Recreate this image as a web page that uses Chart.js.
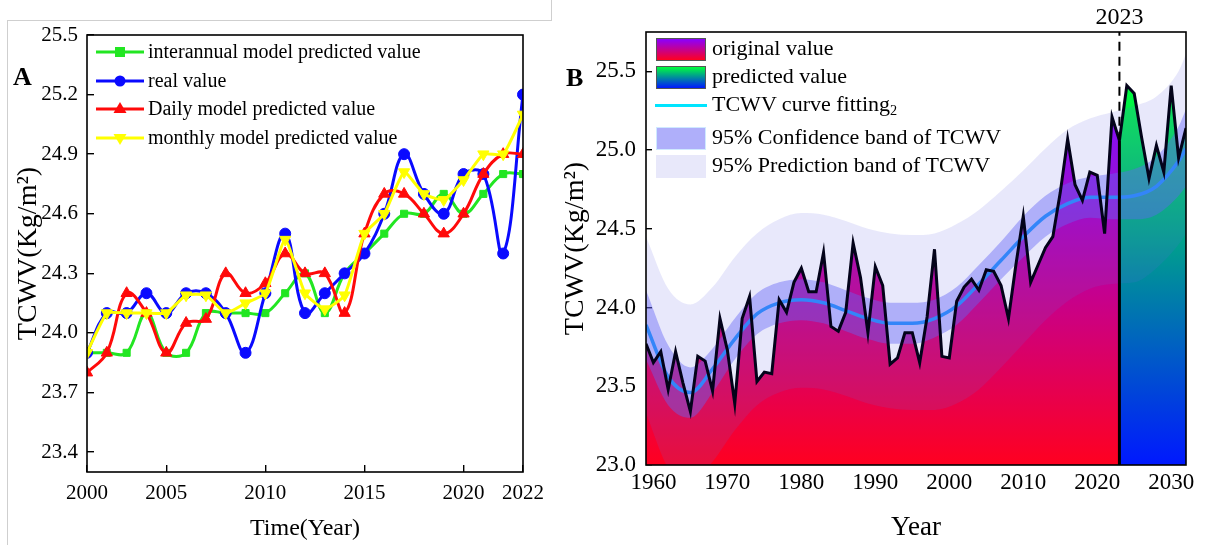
<!DOCTYPE html>
<html>
<head>
<meta charset="utf-8">
<title>TCWV</title>
<script src="https://cdn.jsdelivr.net/npm/chart.js@4.4.1/dist/chart.umd.min.js"></script>
<style>
  html, body { margin: 0; padding: 0; background: #fff; }
  body { width: 1206px; height: 545px; position: relative; overflow: hidden;
         font-family: "Liberation Serif", "Times New Roman", serif; color: #000; }
  canvas { position: absolute; top: 0; }
  #cA { left: 0; }
  #cB { left: 560px; }
  .txt { position: absolute; line-height: 1; white-space: nowrap; }
  .rule { position: absolute; background: #cfcfcf; }
  .swatch { position: absolute; width: 50px; height: 23px; box-sizing: border-box; }
  sub { font-size: 65%; vertical-align: -0.25em; line-height: 0; }
</style>
</head>
<body>
<div class="rule" style="left:7px;top:20px;width:544px;height:1px;"></div>
<div class="rule" style="left:7px;top:20px;width:1px;height:525px;"></div>
<div class="rule" style="left:551px;top:0;width:1px;height:21px;"></div>

<canvas id="cA" width="560" height="545"></canvas>
<canvas id="cB" width="646" height="545"></canvas>

<div class="txt" style="left:13px;top:64px;font-size:26px;font-weight:bold;">A</div>
<div class="txt" style="left:566px;top:65px;font-size:26px;font-weight:bold;">B</div>
<div id="legendA"></div>
<div id="legendB"></div>

<script>
// ---------------- Panel A: model comparison, 2000–2022 ----------------
const yearsA = [2000, 2001, 2002, 2003, 2004, 2005, 2006, 2007, 2008, 2009, 2010, 2011,
                2012, 2013, 2014, 2015, 2016, 2017, 2018, 2019, 2020, 2021, 2022];
const interannualPred = [23.9, 23.9, 23.9, 24.1, 23.9, 23.9, 24.1, 24.1, 24.1, 24.1, 24.2, 24.3,
                         24.1, 24.3, 24.4, 24.5, 24.6, 24.6, 24.7, 24.6, 24.7, 24.8, 24.8];
const realValue = [23.9, 24.1, 24.1, 24.2, 24.1, 24.2, 24.2, 24.1, 23.9, 24.2, 24.5, 24.1,
                   24.2, 24.3, 24.4, 24.6, 24.9, 24.7, 24.6, 24.8, 24.8, 24.4, 25.2];
const dailyPred = [23.8, 23.9, 24.2, 24.1, 23.9, 24.05, 24.07, 24.3, 24.2, 24.25, 24.4, 24.3,
                   24.3, 24.1, 24.5, 24.7, 24.7, 24.6, 24.5, 24.6, 24.8, 24.9, 24.9];
const monthlyPred = [23.9, 24.1, 24.1, 24.1, 24.1, 24.19, 24.19, 24.1, 24.15, 24.2, 24.47, 24.2,
                     24.12, 24.19, 24.5, 24.6, 24.81, 24.7, 24.67, 24.77, 24.9, 24.9, 25.1];
// x tick marks sit on these point indices, with these labels
const xTickIdxA = [0, 4, 9, 14, 19, 22];
const xTickTextA = ['2000', '2005', '2010', '2015', '2020', '2022'];
const yTicksA = [23.4, 23.7, 24.0, 24.3, 24.6, 24.9, 25.2, 25.5];

// ---------------- Panel B: long series, fit and forecast ----------------
const origYears = [];
for (let y = 1959; y <= 2023; y++) origYears.push(y);
const origValues = [
  23.77, 23.65, 23.72, 23.48, 23.72, 23.52, 23.34, 23.69, 23.66, 23.47,
  23.93, 23.73, 23.39, 23.93, 24.07, 23.53, 23.59, 23.58, 24.05, 23.97,
  24.16, 24.25, 24.10, 24.10, 24.35, 23.88, 23.85, 23.97, 24.41, 24.19,
  23.84, 24.26, 24.14, 23.64, 23.68, 23.84, 23.84, 23.65, 23.94, 24.37,
  23.69, 23.68, 24.04, 24.13, 24.18, 24.11, 24.24, 24.23, 24.14, 23.93,
  24.27, 24.58, 24.16, 24.27, 24.38, 24.45, 24.73, 25.07, 24.78, 24.68,
  24.86, 24.84, 24.47, 25.21, 25.06];
const predYears = [2023, 2024, 2025, 2026, 2027, 2028, 2029, 2030, 2031, 2032];
const predValues = [25.06, 25.41, 25.36, 25.08, 24.82, 25.03, 24.86, 25.41, 24.95, 25.14];

const fitYears = [1959, 1962, 1965, 1968, 1971, 1974, 1977, 1980, 1983, 1986, 1989, 1992, 1995,
                  1998, 2001, 2004, 2007, 2010, 2013, 2016, 2019, 2022, 2025, 2028, 2031, 2032];
const fitValues = [23.89, 23.56, 23.46, 23.61, 23.80, 23.96, 24.03, 24.05, 24.03, 23.98, 23.93, 23.90, 23.90,
                   23.93, 24.01, 24.15, 24.30, 24.45, 24.58, 24.66, 24.70, 24.70, 24.71, 24.77, 24.93, 25.01];
const confUpper = [24.11, 23.76, 23.62, 23.74, 23.93, 24.09, 24.16, 24.18, 24.16, 24.11, 24.06, 24.03, 24.03,
                   24.05, 24.13, 24.27, 24.42, 24.58, 24.71, 24.79, 24.83, 24.85, 24.88, 24.96, 25.15, 25.26];
const confLower = [23.67, 23.38, 23.30, 23.46, 23.67, 23.83, 23.90, 23.92, 23.90, 23.85, 23.80, 23.77, 23.77,
                   23.81, 23.89, 24.03, 24.18, 24.32, 24.45, 24.53, 24.57, 24.56, 24.56, 24.59, 24.71, 24.77];
const predBandUpper = [24.45, 24.12, 24.02, 24.13, 24.32, 24.47, 24.56, 24.60, 24.59, 24.55, 24.50, 24.47, 24.46,
                       24.47, 24.53, 24.62, 24.74, 24.87, 25.01, 25.13, 25.20, 25.24, 25.28, 25.34, 25.50, 25.61];
const predBandLower = [23.33, 22.98, 22.88, 23.02, 23.22, 23.38, 23.46, 23.49, 23.48, 23.44, 23.39, 23.36, 23.35,
                       23.35, 23.39, 23.48, 23.62, 23.77, 23.92, 24.04, 24.12, 24.15, 24.16, 24.25, 24.40, 24.47];
const splitYear = 2023;
const xTicksB = [1960, 1970, 1980, 1990, 2000, 2010, 2020, 2030];
const yTicksB = [23.0, 23.5, 24.0, 24.5, 25.0, 25.5];

// ---------------- shared styling ----------------
const FONT = "'Liberation Serif', 'Times New Roman', serif";
Chart.defaults.font.family = FONT;
Chart.defaults.color = '#000';

const framePlugin = {
  id: 'frame',
  afterDraw(chart) {
    const { ctx, chartArea: a } = chart;
    ctx.save();
    ctx.strokeStyle = '#000';
    ctx.lineWidth = 1.6;
    ctx.strokeRect(a.left, a.top, a.right - a.left, a.bottom - a.top);
    ctx.restore();
  }
};

const pairs = (xs, ys) => ys.map((v, i) => ({ x: xs[i], y: v }));

function innerTicks(len) {
  return { display: true, drawOnChartArea: false, drawTicks: true, tickLength: -len, color: '#000', lineWidth: 1.4 };
}

// ---------------- Panel A chart ----------------
const seriesA = [
  { name: 'interannual model predicted value', values: interannualPred, color: '#22e622', marker: 'rect',     rot: 0,   r: 5,   tension: 0.4,  order: 4 },
  { name: 'real value',                        values: realValue,       color: '#0a0aff', marker: 'circle',   rot: 0,   r: 5.5, tension: 0.4,  order: 3 },
  { name: 'Daily model predicted value',       values: dailyPred,       color: '#ff0a0a', marker: 'triangle', rot: 0,   r: 6.5, tension: 0.4,  order: 2 },
  { name: 'monthly model predicted value',     values: monthlyPred,     color: '#ffff00', marker: 'triangle', rot: 180, r: 6.5, tension: 0.15, order: 1 }
];

new Chart(document.getElementById('cA'), {
  type: 'line',
  data: {
    datasets: seriesA.map(s => ({
      label: s.name,
      data: s.values.map((v, i) => ({ x: i, y: v, year: yearsA[i] })),
      borderColor: s.color,
      backgroundColor: s.color,
      pointBorderColor: s.color,
      borderWidth: 3,
      tension: s.tension,
      pointStyle: s.marker,
      pointRotation: s.rot,
      pointRadius: s.r,
      pointBorderWidth: 1,
      fill: false,
      order: s.order
    }))
  },
  options: {
    responsive: false,
    devicePixelRatio: 1,
    animation: false,
    layout: { padding: { left: 0, top: 35, right: 33, bottom: 0 } },
    plugins: { legend: { display: false }, tooltip: { enabled: false } },
    scales: {
      x: {
        type: 'linear', min: 0, max: yearsA.length - 1,
        afterBuildTicks: s => { s.ticks = xTickIdxA.map(v => ({ value: v })); },
        afterFit: s => { s.height = 73; },
        ticks: {
          autoSkip: false, maxRotation: 0, padding: 16, font: { size: 21 },
          callback: v => xTickTextA[xTickIdxA.indexOf(v)]
        },
        grid: innerTicks(7),
        border: { display: false },
        title: { display: true, text: 'Time(Year)', font: { size: 24, lineHeight: 1 }, padding: { top: 0, bottom: 4 } }
      },
      y: {
        type: 'linear', min: 23.3, max: 25.5,
        afterBuildTicks: s => { s.ticks = yTicksA.map(v => ({ value: v })); },
        afterFit: s => { s.width = 87; },
        ticks: { autoSkip: false, padding: 16, font: { size: 21 }, callback: v => v.toFixed(1) },
        grid: innerTicks(7),
        border: { display: false },
        title: { display: true, text: 'TCWV(Kg/m²)', font: { size: 28, lineHeight: 1 }, padding: { top: 15, bottom: 0 } }
      }
    }
  },
  plugins: [framePlugin]
});

// legend for panel A
(function () {
  const box = document.getElementById('legendA');
  seriesA.forEach((s, i) => {
    const cy = 52 + i * 28.5;
    let mk = '';
    if (s.marker === 'rect') mk = `<rect x="19" y="5" width="10" height="10" fill="${s.color}"/>`;
    else if (s.marker === 'circle') mk = `<circle cx="24" cy="10" r="5.5" fill="${s.color}"/>`;
    else if (s.rot === 0) mk = `<polygon points="24,3 30.5,14 17.5,14" fill="${s.color}"/>`;
    else mk = `<polygon points="24,17 30.5,6 17.5,6" fill="${s.color}"/>`;
    box.insertAdjacentHTML('beforeend',
      `<svg style="position:absolute;left:96px;top:${cy - 10}px" width="48" height="20">` +
      `<line x1="0" y1="10" x2="48" y2="10" stroke="${s.color}" stroke-width="3"/>${mk}</svg>` +
      `<div class="txt" style="left:148px;top:${cy - 11}px;font-size:20px;">${s.name}</div>`);
  });
})();

// ---------------- Panel B chart ----------------
function vGradient(chart, v0, c0, v1, c1) {
  const { ctx, chartArea, scales } = chart;
  if (!chartArea) return c0;
  const g = ctx.createLinearGradient(0, scales.y.getPixelForValue(v0), 0, scales.y.getPixelForValue(v1));
  g.addColorStop(0, c0);
  g.addColorStop(1, c1);
  return g;
}
const ORIG_BOTTOM = '#ff0020', ORIG_TOP = '#8a00ff';
const PRED_BOTTOM = '#0018ff', PRED_TOP = '#00ff3c';
const PRED_BAND = 'rgba(100,100,230,0.15)';
const CONF_BAND = 'rgba(100,100,245,0.43)';
const FIT_COLOR = '#00aaff';       // curve, seen through the bands
const FIT_KEY_COLOR = '#00e5ff';   // legend key
const split2023 = origValues[origValues.length - 1];

const splitLabelPlugin = {
  id: 'splitLabel',
  afterDraw(chart) {
    const { ctx, scales } = chart;
    ctx.save();
    ctx.font = `24px ${FONT}`;
    ctx.fillStyle = '#000';
    ctx.textAlign = 'center';
    ctx.textBaseline = 'middle';
    ctx.fillText(String(splitYear), scales.x.getPixelForValue(splitYear), 18);
    ctx.restore();
  }
};

const noPts = { pointRadius: 0, pointHoverRadius: 0 };

new Chart(document.getElementById('cB'), {
  type: 'line',
  data: {
    datasets: [
      // dashed marker above the split year
      { label: 'split', data: [{ x: splitYear, y: split2023 }, { x: splitYear, y: 25.75 }],
        borderColor: '#000', borderWidth: 2, borderDash: [9, 6], fill: false, order: 0, ...noPts },
      // black outlines
      { label: 'original outline', data: pairs(origYears, origValues), borderColor: '#03031a', borderWidth: 3,
        tension: 0, fill: false, order: 1, ...noPts },
      { label: 'predicted outline', data: pairs(predYears, predValues), borderColor: '#03031a', borderWidth: 3,
        tension: 0, fill: false, order: 1, ...noPts },
      { label: 'split edge', data: [{ x: splitYear, y: 23.0 }, { x: splitYear, y: split2023 }],
        borderColor: '#000', borderWidth: 3, fill: false, order: 1, ...noPts },
      // 95% confidence band
      { label: '95% Confidence band of TCWV', data: pairs(fitYears, confUpper), borderWidth: 0,
        backgroundColor: CONF_BAND, fill: '+1', cubicInterpolationMode: 'monotone', order: 3, ...noPts },
      { label: 'conf lower', data: pairs(fitYears, confLower), borderWidth: 0, fill: false,
        cubicInterpolationMode: 'monotone', order: 3, ...noPts },
      // 95% prediction band
      { label: '95% Prediction band of TCWV', data: pairs(fitYears, predBandUpper), borderWidth: 0,
        backgroundColor: PRED_BAND, fill: '+1', cubicInterpolationMode: 'monotone', order: 4, ...noPts },
      { label: 'pred lower', data: pairs(fitYears, predBandLower), borderWidth: 0, fill: false,
        cubicInterpolationMode: 'monotone', order: 4, ...noPts },
      // fitted curve
      { label: 'TCWV curve fitting', data: pairs(fitYears, fitValues), borderColor: FIT_COLOR, borderWidth: 3.5,
        cubicInterpolationMode: 'monotone', fill: false, order: 5, ...noPts },
      // gradient areas
      { label: 'original value', data: pairs(origYears, origValues), borderWidth: 0, tension: 0,
        backgroundColor: c => vGradient(c.chart, 23.0, ORIG_BOTTOM, 25.21, ORIG_TOP), fill: 'start', order: 6, ...noPts },
      { label: 'predicted value', data: pairs(predYears, predValues), borderWidth: 0, tension: 0,
        backgroundColor: c => vGradient(c.chart, 23.0, PRED_BOTTOM, 25.41, PRED_TOP), fill: 'start', order: 6, ...noPts }
    ]
  },
  options: {
    responsive: false,
    devicePixelRatio: 1,
    animation: false,
    layout: { padding: { left: 0, top: 32, right: 20, bottom: 0 } },
    plugins: { legend: { display: false }, tooltip: { enabled: false }, filler: { drawTime: 'beforeDatasetDraw' } },
    scales: {
      x: {
        type: 'linear', min: 1959, max: 2032,
        afterBuildTicks: s => { s.ticks = xTicksB.map(v => ({ value: v })); },
        afterFit: s => { s.height = 80; },
        ticks: { autoSkip: false, maxRotation: 0, padding: 10, font: { size: 23 }, callback: v => String(v) },
        grid: innerTicks(6),
        border: { display: false },
        title: { display: true, text: 'Year', font: { size: 27, lineHeight: 1 }, padding: { top: 0, bottom: 4 } }
      },
      y: {
        type: 'linear', min: 23.0, max: 25.75,
        afterBuildTicks: s => { s.ticks = yTicksB.map(v => ({ value: v })); },
        afterFit: s => { s.width = 86; },
        ticks: { autoSkip: false, padding: 16, font: { size: 23 }, callback: v => v.toFixed(1) },
        grid: innerTicks(6),
        border: { display: false },
        title: { display: true, text: 'TCWV(Kg/m²)', font: { size: 28, lineHeight: 1 }, padding: { top: 2, bottom: 0 } }
      }
    }
  },
  plugins: [framePlugin, splitLabelPlugin]
});

// legend for panel B
(function () {
  const box = document.getElementById('legendB');
  const rows = [
    { kind: 'box', style: `background:linear-gradient(${ORIG_TOP}, ${ORIG_BOTTOM});border:1px solid #555;`, cy: 49, html: 'original value' },
    { kind: 'box', style: `background:linear-gradient(${PRED_TOP}, ${PRED_BOTTOM});border:1px solid #555;`, cy: 77, html: 'predicted value' },
    { kind: 'line', cy: 105, html: 'TCWV curve fitting<sub>2</sub>' },
    { kind: 'box', style: 'background:#afaffa;border:1px solid #cfe9ff;', cy: 138, html: '95% Confidence band of TCWV' },
    { kind: 'box', style: 'background:#e8e8fa;', cy: 166, html: '95% Prediction band of TCWV' }
  ];
  rows.forEach(r => {
    if (r.kind === 'box') {
      box.insertAdjacentHTML('beforeend', `<div class="swatch" style="left:656px;top:${r.cy - 11.5}px;${r.style}"></div>`);
    } else {
      box.insertAdjacentHTML('beforeend', `<div style="position:absolute;left:655px;top:${r.cy - 1.5}px;width:52px;height:3px;background:${FIT_KEY_COLOR};"></div>`);
    }
    box.insertAdjacentHTML('beforeend', `<div class="txt" style="left:712px;top:${r.cy - 12}px;font-size:22px;">${r.html}</div>`);
  });
})();
</script>
</body>
</html>
